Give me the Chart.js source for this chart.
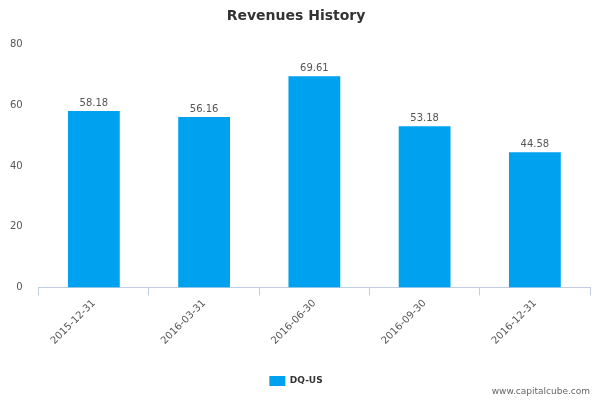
<!DOCTYPE html>
<html><head><meta charset="utf-8">
<script src="https://cdn.jsdelivr.net/npm/chart.js@4"></script>
<style>body{margin:0;background:#fff}#w{width:600px;height:400px;position:relative}</style>
</head><body><div id="w"><canvas id="c"></canvas></div>
<script>
const categories = ["2015-12-31","2016-03-31","2016-06-30","2016-09-30","2016-12-31"];
const revenues = [58.18,56.16,69.61,53.18,44.58];
const yTicks = [0,20,40,60,80];
const seriesName = "DQ-US";

const labelPlugin = {
  id:'labels',
  afterDatasetsDraw(chart){
    const ctx=chart.ctx; const meta=chart.getDatasetMeta(0);
    ctx.save(); ctx.font='10px "DejaVu Sans", sans-serif'; ctx.fillStyle='#555'; ctx.textAlign='center'; ctx.textBaseline='bottom';
    meta.data.forEach((b,i)=>ctx.fillText(revenues[i].toFixed(2), b.x, b.y-3));
    ctx.font='9px "DejaVu Sans", sans-serif'; ctx.fillStyle='#666'; ctx.textAlign='right';
    ctx.fillText('www.capitalcube.com', 590, 396);
    ctx.restore();
  }
};
new Chart(document.getElementById('c'),{
  type:'bar',
  data:{labels:categories,datasets:[{label:seriesName,data:revenues,backgroundColor:'#00a2ef',barPercentage:0.47,categoryPercentage:1}]},
  options:{responsive:true,maintainAspectRatio:false,animation:false,
    layout:{padding:{left:2,right:10,top:0,bottom:4}},
    plugins:{
      title:{display:true,text:'Revenues History',color:'#333',font:{family:'"DejaVu Sans", sans-serif',size:14,weight:'bold'},padding:{top:8,bottom:20}},
      legend:{position:'bottom',labels:{boxWidth:16,boxHeight:10,color:'#333',font:{family:'"DejaVu Sans", sans-serif',size:9,weight:'bold'},padding:14}},
      tooltip:{enabled:false}
    },
    scales:{
      x:{afterFit:s=>{s.height+=13;},grid:{display:true,drawOnChartArea:false,offset:true,tickLength:8,color:'#c0cce0'},border:{color:'#c0cce0'},
        ticks:{color:'#555',font:{family:'"DejaVu Sans", sans-serif',size:10},minRotation:45,maxRotation:45,padding:2}},
      y:{min:0,max:80,afterBuildTicks:a=>{a.ticks=yTicks.map(v=>({value:v}));},grid:{display:false},border:{display:false},
        ticks:{color:'#555',font:{family:'"DejaVu Sans", sans-serif',size:10},padding:8}}
    }
  },
  plugins:[labelPlugin]
});
</script></body></html>
